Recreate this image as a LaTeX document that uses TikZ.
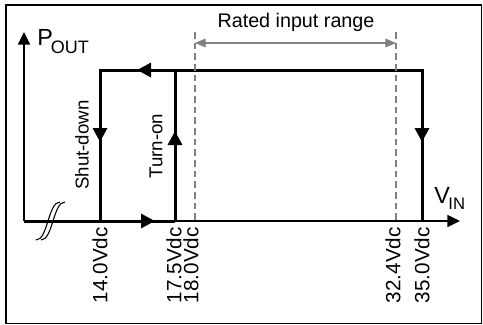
\documentclass[tikz,border=0pt]{standalone}
\usepackage{fontspec}
\setmainfont{Liberation Sans}
\usetikzlibrary{arrows.meta,positioning}

\tikzset{
	flow/.style={line width=2.25pt},
	axis/.style={line width=1.1pt,-{Triangle[length=9.5pt,width=9pt]}},
	tip/.style={-{Triangle[length=10.5pt,width=10.5pt]}},
	limit/.style={draw=gray,line width=0.9pt,dash pattern=on 5pt off 3pt},
	tick/.style={rotate=90,anchor=east,inner sep=0pt,font=\fontsize{15.5}{18}\selectfont},
	mode/.style={rotate=90,inner sep=0pt,font=\fontsize{14}{16}\selectfont}
}

\begin{document}
\begin{tikzpicture}[x=0.75pt,y=-0.75pt]
	\useasboundingbox (0,0) rectangle (483,325);
	\draw[line width=0.8pt] (6,5) rectangle (481.5,323.5);

	% axes
	\coordinate (O) at (24,221);
	\coordinate (Xend) at (460,221);
	\coordinate (Yend) at (24,32);
	\draw[axis] (O) -- (Xend);
	\draw[axis] (O) -- (Yend);
	\draw[line width=0.8pt] (36,240) .. controls (48,240) and (48,202) .. (60,202);
	\draw[line width=0.8pt] (41,240) .. controls (53,240) and (53,202) .. (65,202);

	% hysteresis loop
	\coordinate (off) at (100,221);
	\coordinate (on) at (175,221);
	\coordinate (max) at (422,221);
	\coordinate (offtop) at (100,70);
	\coordinate (ontop) at (175,70);
	\coordinate (maxtop) at (422,70);
	\draw[flow] (O) -- (on);
	\draw[flow] (on) -- (ontop);
	\draw[flow] (off) -- (offtop) -- (maxtop) -- (max);
	\draw[flow,tip] (O) -- (155,221);
	\draw[flow,tip] (on) -- (175,131);
	\draw[flow,tip] (maxtop) -- (137,70);
	\draw[flow,tip] (offtop) -- (100,142);
	\draw[flow,tip] (maxtop) -- (422,142);

	% rated range
	\coordinate (lotop) at (195,32);
	\coordinate (lo) at (195,221);
	\coordinate (hitop) at (396,32);
	\coordinate (hi) at (396,221);
	\draw[limit] (lotop) -- (lo);
	\draw[limit] (hitop) -- (hi);
	\draw[gray,line width=0.9pt,{Triangle[length=8pt,width=6.5pt]}-{Triangle[length=8pt,width=6.5pt]}] (195,43) -- (396,43);
	\node[inner sep=0pt,font=\fontsize{14.8}{17}\selectfont] (range) at (296,22) {Rated input range};

	% labels
	\node[anchor=base west,inner sep=0pt,font=\fontsize{17.5}{20}\selectfont] (pout) at (37,45) {P\kern-1.5pt\raisebox{-6pt}{\fontsize{13.5}{15}\selectfont OUT}};
	\node[anchor=base west,inner sep=0pt,font=\fontsize{17.5}{20}\selectfont] (vin) at (434,203) {V\kern-1pt\raisebox{-5pt}{\fontsize{12.5}{15}\selectfont IN}};
	\node[mode] (sdlabel) at (82,145) {Shut-down};
	\node[mode] (onlabel) at (156,146) {Turn-on};
	\foreach \x/\v [count=\n] in {100/14.0,174/17.5,191/18.0,393/32.4,422/35.0}
		\node[tick] (tick\n) at (\x,227) {\v Vdc};
\end{tikzpicture}
\end{document}
